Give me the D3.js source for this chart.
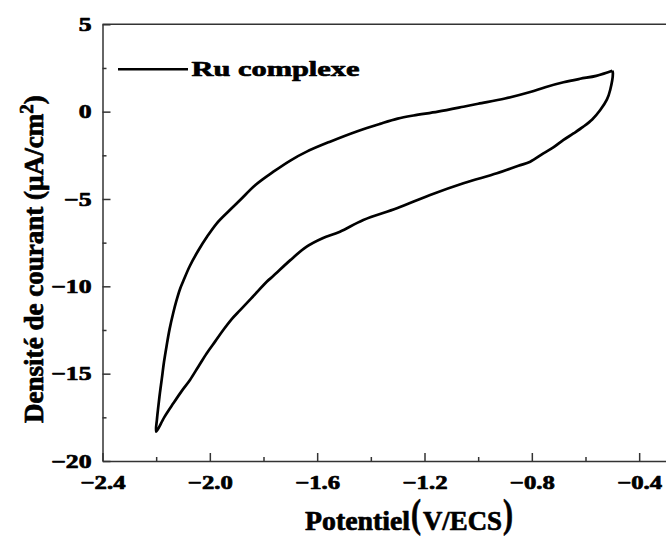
<!DOCTYPE html>
<html>
<head>
<meta charset="utf-8">
<script src="https://cdn.jsdelivr.net/npm/d3@7"></script>
<style>
  html, body { margin: 0; padding: 0; background: #fff; }
  svg { display: block; }
  text { font-family: "Liberation Serif", "Times New Roman", serif; font-weight: bold; fill: #000; }
</style>
</head>
<body>
<svg id="chart" width="666" height="537"></svg>
<script>
// ---- data ----
const potential = [
  -0.500, -0.560, -0.620, -0.682, -0.750, -0.806, -0.900, -1.000, -1.055, -1.150,
  -1.241, -1.300, -1.366, -1.450, -1.552, -1.639, -1.700, -1.763, -1.830, -1.887,
  -1.930, -1.974, -2.010, -2.043, -2.075, -2.099, -2.111, -2.125, -2.136, -2.150,
  -2.161, -2.171, -2.179, -2.186, -2.192, -2.197, -2.200,
  -2.170, -2.136, -2.105, -2.074, -2.043, -2.012, -1.980, -1.950, -1.920, -1.887,
  -1.840, -1.788, -1.763, -1.700, -1.639, -1.580, -1.515, -1.428, -1.303, -1.179,
  -1.055, -0.930, -0.850, -0.806, -0.757, -0.720, -0.682, -0.645, -0.608, -0.575,
  -0.545, -0.520, -0.508, -0.498, -0.500
];
const currentDensity = [
  2.34, 2.05, 1.88, 1.68, 1.40, 1.12, 0.75, 0.45, 0.28, 0.00,
  -0.22, -0.40, -0.70, -1.12, -1.72, -2.29, -2.80, -3.44, -4.20, -5.06,
  -5.70, -6.39, -7.15, -7.95, -8.85, -9.70, -10.15, -10.85, -11.50, -12.45,
  -13.40, -14.35, -15.30, -16.10, -16.89, -17.60, -18.32,
  -17.50, -16.70, -16.00, -15.36, -14.60, -13.84, -13.15, -12.50, -11.90, -11.36,
  -10.60, -9.74, -9.40, -8.50, -7.73, -7.25, -6.87, -6.20, -5.53, -4.77,
  -4.10, -3.53, -3.10, -2.87, -2.39, -2.05, -1.62, -1.25, -0.86, -0.45,
  0.09, 0.70, 1.24, 2.19, 2.34
];
const seriesName = "Ru complexe";
const xMajorTicks = [-2.4, -2.0, -1.6, -1.2, -0.8, -0.4];
const xMinorTicks = [-2.2, -1.8, -1.4, -1.0, -0.6];
const yMajorTicks = [5, 0, -5, -10, -15, -20];
const yMinorTicks = [2.5, -2.5, -7.5, -12.5, -17.5];
const xTitle = "Potentiel";
const xUnit = "V/ECS";
const yTitle = "Densité de courant (µA/cm";

// ---- layout ----
const svg = d3.select("#chart");
const mLeft = 102.5, mRight = 666, mTop = 24.3, mBottom = 461;
const x = d3.scaleLinear().domain([-2.4, -0.3]).range([mLeft, mRight]);
const y = d3.scaleLinear().domain([-20, 5]).range([mBottom, mTop]);
const heavy = sel => sel.attr("stroke", "#000").attr("stroke-width", 0.7).attr("stroke-linejoin", "round");

function stretch(sel, k) {
  sel.each(function() {
    const w = this.getComputedTextLength();
    d3.select(this).attr("textLength", w * k).attr("lengthAdjust", "spacingAndGlyphs");
  });
}

// top frame line
svg.append("line").attr("x1", mLeft).attr("x2", mRight).attr("y1", mTop).attr("y2", mTop)
  .attr("stroke", "#333").attr("stroke-width", 1.5);

// bottom axis
const gx = svg.append("g").attr("transform", `translate(0,${mBottom})`)
  .call(d3.axisBottom(x).tickValues(xMajorTicks).tickFormat(d => d3.format(".1f")(d))
    .tickSizeInner(-8).tickSizeOuter(0).tickPadding(15));
const gxm = svg.append("g").attr("transform", `translate(0,${mBottom})`)
  .call(d3.axisBottom(x).tickValues(xMinorTicks).tickFormat("")
    .tickSizeInner(-4).tickSizeOuter(0));
gxm.select(".domain").remove();

// left axis
const gy = svg.append("g").attr("transform", `translate(${mLeft},0)`)
  .call(d3.axisLeft(y).tickValues(yMajorTicks).tickFormat(d => d3.format("d")(d))
    .tickSizeInner(-8).tickSizeOuter(0).tickPadding(11));
const gym = svg.append("g").attr("transform", `translate(${mLeft},0)`)
  .call(d3.axisLeft(y).tickValues(yMinorTicks).tickFormat("")
    .tickSizeInner(-4).tickSizeOuter(0));
gym.select(".domain").remove();

[gx, gxm, gy, gym].forEach(g => {
  g.selectAll(".domain").attr("stroke", "#333").attr("stroke-width", 1.5);
  g.selectAll(".tick line").attr("stroke", "#333").attr("stroke-width", 1.5);
});
[gx, gy].forEach(g => {
  g.selectAll(".tick text")
    .attr("font-family", "Liberation Serif, serif")
    .attr("font-weight", "bold")
    .attr("font-size", 19)
    .attr("fill", "#000")
    .call(heavy);
});
stretch(gx.selectAll(".tick text"), 1.3);
stretch(gy.selectAll(".tick text"), 1.35);

// data line
const pts = potential.map((p, i) => [p, currentDensity[i]]);
const line = d3.line().x(d => x(d[0])).y(d => y(d[1])).curve(d3.curveCatmullRom.alpha(0.5));
svg.append("path").datum(pts).attr("d", line)
  .attr("fill", "none").attr("stroke", "#000").attr("stroke-width", 2.7)
  .attr("stroke-linejoin", "round");

// legend
svg.append("line").attr("x1", 118).attr("x2", 188).attr("y1", 69.3).attr("y2", 69.3)
  .attr("stroke", "#000").attr("stroke-width", 2.6);
svg.append("text").attr("x", 191.5).attr("y", 75.5).attr("font-size", 22)
  .attr("textLength", 168).attr("lengthAdjust", "spacingAndGlyphs").text(seriesName).call(heavy);

// x title
svg.append("text").attr("x", 305).attr("y", 530).attr("font-size", 27)
  .attr("textLength", 105).attr("lengthAdjust", "spacingAndGlyphs").text(xTitle).call(heavy);
svg.append("text").attr("x", 411).attr("y", 527).attr("font-size", 40).attr("font-weight", "normal")
  .attr("textLength", 10).attr("lengthAdjust", "spacingAndGlyphs").text("(").call(heavy);
svg.append("text").attr("x", 423).attr("y", 530).attr("font-size", 27)
  .attr("textLength", 79).attr("lengthAdjust", "spacingAndGlyphs").text(xUnit).call(heavy);
svg.append("text").attr("x", 503).attr("y", 527).attr("font-size", 40).attr("font-weight", "normal")
  .attr("textLength", 10).attr("lengthAdjust", "spacingAndGlyphs").text(")").call(heavy);

// y title
const yt = svg.append("text").attr("font-size", 27).call(heavy);
yt.append("tspan").text(yTitle);
yt.append("tspan").attr("font-size", 19).attr("dy", -10).text("2");
yt.append("tspan").attr("dy", 10).text(")");
const yw = yt.node().getComputedTextLength();
const sx = 328 / yw;
yt.attr("transform", `translate(43,423) rotate(-90) scale(${sx},1)`);
</script>
</body>
</html>
